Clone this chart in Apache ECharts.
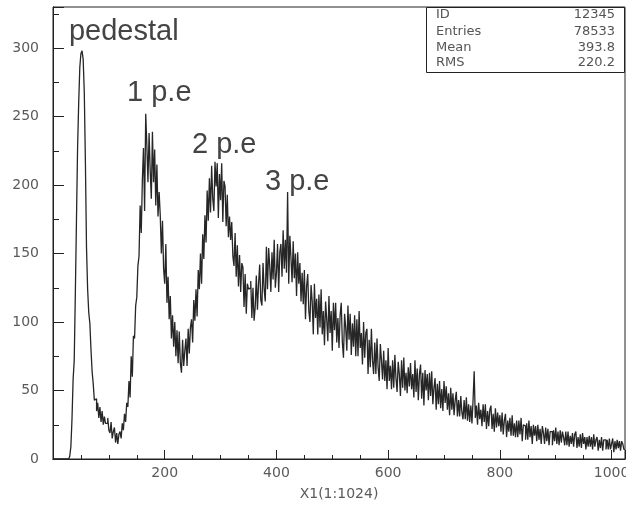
<!DOCTYPE html>
<html>
<head>
<meta charset="utf-8">
<script src="https://cdn.jsdelivr.net/npm/echarts@6/dist/echarts.min.js"></script>
<style>
html,body{margin:0;padding:0;background:#fff;}
#c{width:626px;height:506px;}
</style>
</head>
<body>
<div id="c"></div>
<script>
// ---- data ----
const binWidth = 2; // channels per bin
const counts = [
  0,0,0,0,0,0,0,0,0,0,0,0,0,0,0,2,
  9,29,58,72,121,174,227,260,286,296,298,292,268,217,154,124,
  107,99,80,64,55,43,44,35,41,30,38,27,35,25,31,26,
  26,30,21,19,27,15,20,23,12,19,11,18,20,15,26,21,
  33,27,41,38,57,45,75,60,90,88,112,118,141,148,185,165,
  204,227,181,252,229,202,238,211,190,239,202,226,185,215,177,195,
  178,150,174,139,128,157,114,133,102,119,88,105,82,100,75,94,
  70,93,70,63,87,68,79,88,68,95,77,96,102,85,116,101,
  124,104,138,124,150,128,164,146,178,158,196,174,205,180,214,190,
  181,217,199,216,176,208,189,216,173,203,199,170,193,162,177,160,
  173,148,141,165,133,156,126,149,122,143,140,111,135,106,128,124,
  125,130,103,125,101,111,134,109,128,142,116,112,143,124,115,155,
  124,154,141,122,151,131,160,125,136,157,122,151,157,133,167,139,
  160,136,195,128,163,147,129,159,132,150,119,151,128,143,115,136,
  113,138,102,126,135,108,100,127,115,91,128,103,117,91,120,96,
  124,91,108,83,115,102,86,119,92,108,79,114,94,114,85,103,
  81,105,114,85,74,106,96,79,112,87,106,76,99,82,105,75,
  102,75,108,81,92,69,100,74,92,95,62,87,67,95,72,62,
  85,62,88,67,57,84,72,58,79,57,72,51,81,57,68,51,
  72,52,76,59,49,71,62,46,72,52,74,50,63,48,67,53,
  70,51,62,45,72,49,66,43,62,69,44,63,39,65,50,62,
  43,63,46,64,40,52,59,36,55,40,57,37,51,35,57,41,
  53,36,48,32,52,36,48,32,43,49,31,43,31,46,34,29,
  43,29,45,28,40,27,39,26,43,64,30,39,25,41,29,36,
  24,40,27,40,22,35,24,36,39,22,33,20,37,23,34,24,
  32,20,34,18,28,33,16,28,20,30,17,32,17,26,16,28,
  16,28,18,30,13,25,24,14,26,14,28,16,24,11,25,17,
  24,13,25,14,22,11,24,19,11,23,13,22,10,20,20,10,
  21,13,23,11,20,10,21,12,20,16,10,20,10,20,9,17,
  11,19,9,18,20,8,16,9,18,8,19,11,16,7,16,9,
  17,9,16,7,18,9,14,16,6,14,8,16,6,14,14,7,
  14,7,15,7,11,15,5,13,7,14,8,13,6,13,11,7
];
const xMin = 0, xMax = 1024;
const yMin = 0, yMax = 330;
const xTickLabels = [200, 400, 600, 800, 1000];
const yTickLabels = [0, 50, 100, 150, 200, 250, 300];
const xTitle = 'X1(1:1024)';
const statNames = ['ID', 'Entries', 'Mean', 'RMS'];
const statValues = ['12345', '78533', '393.8', '220.2'];
const peakNames = ['pedestal', '1 p.e', '2 p.e', '3 p.e'];
const peakAnchorX = [28.6, 132.5, 248.8, 379.5];   // data units (label left edge)
const peakAnchorY = [305, 261, 223, 196];          // data units (label baseline)

// ---- chart ----
const points = counts.map((v, i) => [i * binWidth, v]);
points.push([counts.length * binWidth, counts[counts.length - 1]]);

const labelFont = {fontFamily: 'DejaVu Sans', fontSize: 14, color: '#5a5a5a'};
const axisLineStyle = {color: '#222', width: 1};

const chart = echarts.init(document.getElementById('c'), null, {renderer: 'canvas'});
const option = {
  animation: false,
  backgroundColor: '#fff',
  grid: {left: 53, right: 1, top: 7, bottom: 47, containLabel: false, outerBoundsMode: 'none',
         show: true, borderColor: '#222', borderWidth: 1, backgroundColor: 'transparent'},
  xAxis: [
    {type: 'value', min: xMin, max: xMax, interval: 50, position: 'bottom',
     axisLine: {show: true, lineStyle: axisLineStyle},
     axisTick: {show: true, inside: true, length: 4, lineStyle: axisLineStyle},
     axisLabel: {show: false}, splitLine: {show: false}},
    {type: 'value', min: xMin, max: xMax, interval: 200, position: 'bottom',
     axisLine: {show: true, lineStyle: axisLineStyle},
     axisTick: {show: true, inside: true, length: 9, lineStyle: axisLineStyle},
     axisLabel: Object.assign({show: true, margin: 7, hideOverlap: false,
       formatter: v => xTickLabels.includes(v) ? String(v) : ''}, labelFont),
     splitLine: {show: false},
     name: xTitle, nameLocation: 'middle', nameGap: 28,
     nameTextStyle: {fontFamily: 'DejaVu Sans', fontSize: 14, color: '#5a5a5a'}}
  ],
  yAxis: [
    {type: 'value', min: yMin, max: yMax, interval: 25,
     axisLine: {show: true, lineStyle: axisLineStyle},
     axisTick: {show: true, inside: true, length: 6, lineStyle: axisLineStyle},
     axisLabel: {show: false}, splitLine: {show: false}},
    {type: 'value', min: yMin, max: yMax, interval: 50, position: 'left',
     axisLine: {show: true, lineStyle: axisLineStyle},
     axisTick: {show: true, inside: true, length: 11, lineStyle: axisLineStyle},
     axisLabel: Object.assign({show: true, margin: 14,
       formatter: v => yTickLabels.includes(v) ? String(v) : ''}, labelFont),
     splitLine: {show: false}}
  ],
  series: [{
    type: 'line', xAxisIndex: 1, yAxisIndex: 1, step: 'end',
    data: points, showSymbol: false, symbol: 'none',
    lineStyle: {color: '#262626', width: 1.3}, clip: true
  }]
};
chart.setOption(option);

// annotations + statistics box
const g = [];
peakNames.forEach((name, i) => {
  const p = chart.convertToPixel({xAxisIndex: 1, yAxisIndex: 1}, [peakAnchorX[i], peakAnchorY[i]]);
  g.push({type: 'text', x: p[0], y: p[1] - 9, z: 10,
    style: {text: name, fill: '#444', font: '29px "Liberation Sans", Arial, sans-serif',
            align: 'left', verticalAlign: 'middle'}});
});
g.push({type: 'rect', shape: {x: 426.5, y: 7.5, width: 198, height: 65}, z: 5,
  style: {fill: '#fff', stroke: '#222', lineWidth: 1}});
const rowY = [15, 32, 48, 63];
statNames.forEach((n, i) => {
  g.push({type: 'text', x: 436, y: rowY[i], z: 10,
    style: {text: n, fill: '#555', font: '13px "DejaVu Sans", sans-serif', align: 'left', verticalAlign: 'middle'}});
  g.push({type: 'text', x: 615, y: rowY[i], z: 10,
    style: {text: statValues[i], fill: '#555', font: '13px "DejaVu Sans", sans-serif', align: 'right', verticalAlign: 'middle'}});
});
chart.setOption({graphic: g});
</script>
</body>
</html>
